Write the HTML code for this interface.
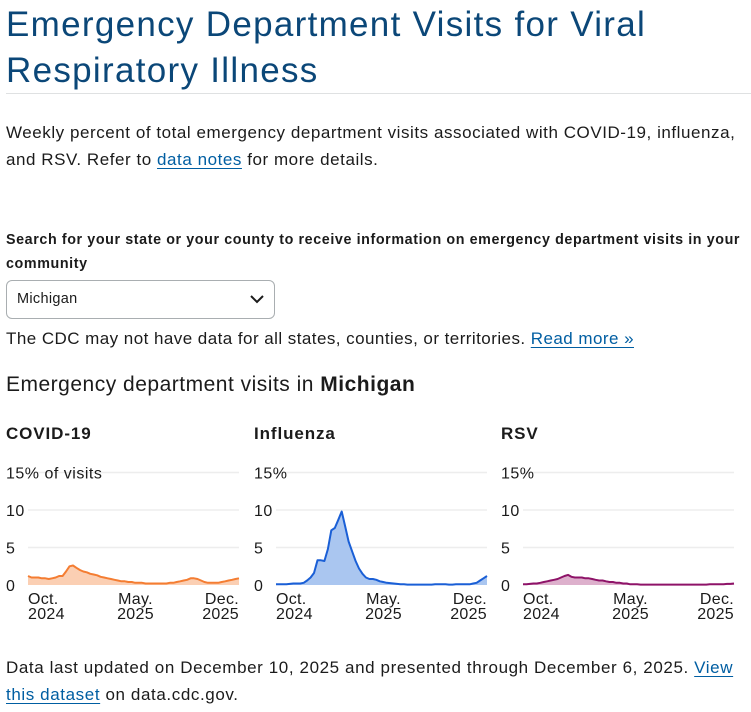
<!DOCTYPE html>
<html><head><meta charset="utf-8"><style>
body{margin:0;width:751px;height:712px;overflow:hidden;background:#fff;font-family:"Liberation Sans",sans-serif;color:#1b1b1b;position:relative}
.a{position:absolute;white-space:nowrap}
a{color:#005ea2;text-decoration:underline;text-underline-offset:3px}
h1{position:absolute;left:6px;top:2px;margin:0;font-weight:normal;font-size:35px;line-height:46px;color:#0b4778;letter-spacing:1.3px}
.rule{position:absolute;left:6px;top:93px;width:745px;height:1px;background:#dfe1e2}
.sel{position:absolute;left:6px;top:280px;width:269px;height:39px;border:1px solid #a9aeb1;border-radius:6px;box-sizing:border-box}
svg text{font-family:"Liberation Sans",sans-serif}
</style></head><body>
<h1>Emergency Department Visits for Viral<br>Respiratory Illness</h1>
<div class="rule"></div>
<div class="a" style="left:6px;top:119px;font-size:17px;line-height:27px;letter-spacing:0.55px">Weekly percent of total emergency department visits associated with COVID-19, influenza,<br>and RSV. Refer to <a>data notes</a> for more details.</div>
<div class="a" style="left:6px;top:228px;font-size:14.3px;font-weight:bold;line-height:24px;letter-spacing:0.6px">Search for your state or your county to receive information on emergency department visits in your<br>community</div>
<div class="sel"><span class="a" style="left:10px;top:10px;font-size:14.5px;letter-spacing:0.3px">Michigan</span>
<svg class="a" style="left:242px;top:12px" width="16" height="12"><path d="M2 3 L8 9 L14 3" fill="none" stroke="#1b1b1b" stroke-width="2"/></svg></div>
<div class="a" style="left:6px;top:329px;font-size:17px;letter-spacing:0.45px">The CDC may not have data for all states, counties, or territories. <a>Read more »</a></div>
<div class="a" style="left:6px;top:373px;font-size:21px;letter-spacing:0.5px">Emergency department visits in <b>Michigan</b></div>
<div id="charts"></div>
<div class="a" style="left:6px;top:654px;font-size:17px;line-height:27px;letter-spacing:0.6px">Data last updated on December 10, 2025 and presented through December 6, 2025. <a>View</a><br><a>this dataset</a> on data.cdc.gov.</div>
<script>
const covidValues=[1.2,1.0,1.0,1.0,0.9,0.9,0.8,0.9,1.0,1.2,1.2,1.8,2.5,2.6,2.3,2.0,1.8,1.7,1.5,1.4,1.3,1.1,1.0,0.9,0.8,0.7,0.6,0.5,0.5,0.4,0.4,0.3,0.3,0.3,0.2,0.2,0.2,0.2,0.2,0.2,0.2,0.3,0.3,0.4,0.5,0.6,0.7,0.9,0.9,0.8,0.6,0.4,0.3,0.3,0.3,0.3,0.4,0.5,0.6,0.7,0.8,0.9];
const fluValues=[0.1,0.1,0.1,0.1,0.15,0.2,0.2,0.2,0.3,0.6,1.0,1.6,3.3,3.3,3.2,4.8,7.3,7.6,8.7,9.8,7.8,5.8,4.5,3.2,2.2,1.5,1.0,0.8,0.8,0.7,0.5,0.4,0.3,0.25,0.2,0.15,0.1,0.1,0.05,0.05,0.05,0.05,0.05,0.05,0.05,0.05,0.1,0.1,0.1,0.1,0.05,0.05,0.1,0.1,0.1,0.1,0.1,0.2,0.3,0.6,0.9,1.2];
const rsvValues=[0.1,0.1,0.15,0.2,0.2,0.3,0.4,0.5,0.6,0.7,0.8,1.0,1.2,1.35,1.1,1.0,1.0,1.0,0.9,0.9,0.8,0.7,0.6,0.6,0.5,0.4,0.4,0.3,0.3,0.2,0.2,0.1,0.1,0.1,0.05,0.05,0.05,0.05,0.05,0.05,0.05,0.05,0.05,0.05,0.05,0.05,0.05,0.05,0.05,0.05,0.05,0.05,0.05,0.05,0.1,0.1,0.1,0.1,0.1,0.15,0.15,0.2];
const yTicks=[0,5,10,15];
const xTickMonths=["Oct.","May.","Dec."];
const xTickYears=["2024","2025","2025"];
const chartTitles=["COVID-19","Influenza","RSV"];
const charts=[
 {title:chartTitles[0],vals:covidValues,left:0,line:"#f47d32",fill:"#fbcfb3",top:"15% of visits",name:"covid"},
 {title:chartTitles[1],vals:fluValues,left:248,line:"#1a5fd6",fill:"#aac6f0",top:"15%",name:"influenza"},
 {title:chartTitles[2],vals:rsvValues,left:495,line:"#8e1368",fill:"#ddb0cc",top:"15%",name:"rsv"}];
const NS="http://www.w3.org/2000/svg";
const host=document.getElementById('charts');
charts.forEach(c=>{
 const svg=document.createElementNS(NS,'svg');
 svg.setAttribute('width',250);svg.setAttribute('height',240);
 svg.setAttribute('style','position:absolute;left:'+c.left+'px;top:410px');
 
 
 const x0=28,x1=239,yBase=175,ppu=7.5;
 const xs=i=>x0+(x1-x0)*i/(c.vals.length-1);
 const ys=v=>yBase-v*ppu;
 let h='';
 h+=`<text x="6" y="29" font-size="17" font-weight="bold" letter-spacing="0.9" fill="#1b1b1b">${c.title}</text>`;
 yTicks.forEach(t=>{
  if(t>0) h+=`<line x1="${x0}" x2="${x1}" y1="${ys(t)}" y2="${ys(t)}" stroke="#ededed" stroke-width="1.5"/>`;
  const lbl=t===15?c.top:String(t);
  h+=`<text x="6" y="${ys(t)+6}" font-size="16" letter-spacing="0.5" fill="#1b1b1b">${lbl}</text>`;
 });
 let pts=c.vals.map((v,i)=>xs(i).toFixed(1)+','+ys(v).toFixed(1)).join(' ');
 h+=`<polygon points="${x0},${yBase} ${pts} ${x1},${yBase}" fill="${c.fill}"/>`;
 h+=`<polyline points="${pts}" fill="none" stroke="${c.line}" stroke-width="2" stroke-linejoin="round"/>`;
 const xpos=[[x0,'start'],[(x0+x1)/2+2,'middle'],[x1,'end']];
 xTickMonths.forEach((m,i)=>{
  h+=`<text x="${xpos[i][0]}" y="${yBase+19}" font-size="16" letter-spacing="0.3" text-anchor="${xpos[i][1]}" fill="#1b1b1b">${m}</text>`;
  h+=`<text x="${xpos[i][0]}" y="${yBase+34}" font-size="16" letter-spacing="0.3" text-anchor="${xpos[i][1]}" fill="#1b1b1b">${xTickYears[i]}</text>`;
 });
 svg.innerHTML=h;
 host.appendChild(svg);
});
</script>
</body></html>
